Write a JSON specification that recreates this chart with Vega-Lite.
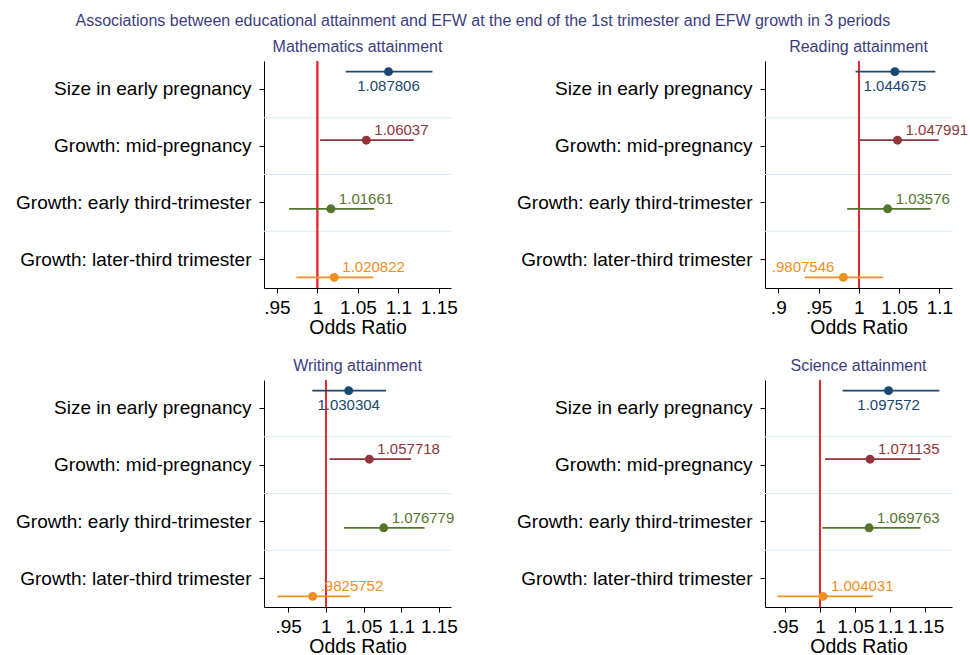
{
  "$schema": "https://vega.github.io/schema/vega-lite/v6.json",
  "padding": {"left": 15, "top": 13, "right": 5, "bottom": 5},
  "title": {"text": "Associations between educational attainment and EFW at the end of the 1st trimester and EFW growth in 3 periods", "fontSize": 16, "fontWeight": "normal", "color": "#3b3e7e", "anchor": "middle", "font": "Liberation Sans", "offset": 10, "dx": -9},
  "data": {"values": [
    {"panel": "Mathematics attainment", "row": "Size in early pregnancy", "or": 1.087806, "lo": 1.035, "hi": 1.142},
    {"panel": "Mathematics attainment", "row": "Growth: mid-pregnancy", "or": 1.06037, "lo": 1.0033, "hi": 1.119},
    {"panel": "Mathematics attainment", "row": "Growth: early third-trimester", "or": 1.01661, "lo": 0.965, "hi": 1.070},
    {"panel": "Mathematics attainment", "row": "Growth: later-third trimester", "or": 1.020822, "lo": 0.974, "hi": 1.069},
    {"panel": "Reading attainment", "row": "Size in early pregnancy", "or": 1.044675, "lo": 0.996, "hi": 1.095},
    {"panel": "Reading attainment", "row": "Growth: mid-pregnancy", "or": 1.047991, "lo": 1.000, "hi": 1.099},
    {"panel": "Reading attainment", "row": "Growth: early third-trimester", "or": 1.03576, "lo": 0.9855, "hi": 1.089},
    {"panel": "Reading attainment", "row": "Growth: later-third trimester", "or": 0.9807546, "lo": 0.933, "hi": 1.030},
    {"panel": "Writing attainment", "row": "Size in early pregnancy", "or": 1.030304, "lo": 0.982, "hi": 1.080},
    {"panel": "Writing attainment", "row": "Growth: mid-pregnancy", "or": 1.057718, "lo": 1.005, "hi": 1.113},
    {"panel": "Writing attainment", "row": "Growth: early third-trimester", "or": 1.076779, "lo": 1.024, "hi": 1.131},
    {"panel": "Writing attainment", "row": "Growth: later-third trimester", "or": 0.9825752, "lo": 0.936, "hi": 1.032},
    {"panel": "Science attainment", "row": "Size in early pregnancy", "or": 1.097572, "lo": 1.032, "hi": 1.170},
    {"panel": "Science attainment", "row": "Growth: mid-pregnancy", "or": 1.071135, "lo": 1.007, "hi": 1.143},
    {"panel": "Science attainment", "row": "Growth: early third-trimester", "or": 1.069763, "lo": 1.003, "hi": 1.143},
    {"panel": "Science attainment", "row": "Growth: later-third trimester", "or": 1.004031, "lo": 0.939, "hi": 1.075}
  ]},
  "columns": 2,
  "bounds": "flush",
  "spacing": {"row": 92, "column": 314},
  "concat": [
    {
      "title": "Mathematics attainment",
      "width": 187, "height": 227,
      "transform": [{"filter": "datum.panel === 'Mathematics attainment'"}, {"calculate": "datum.or < 1 ? substring(format(datum.or, '.7'), 1) : format(datum.or, '.7')", "as": "lab"}],
      "layer": [
        {"transform": [{"filter": "datum.row !== 'Size in early pregnancy'"}],
         "mark": {"type": "rule", "color": "#d8ebf3", "strokeWidth": 1},
         "encoding": {"y": {"field": "row", "type": "nominal", "bandPosition": 0, "scale": {"type": "band", "domain": ["Size in early pregnancy", "Growth: mid-pregnancy", "Growth: early third-trimester", "Growth: later-third trimester"], "padding": 0}, "axis": {"bandPosition": 0.5, "title": null, "labelLimit": 400}}}},
        {"mark": {"type": "rule", "color": "#e4262f", "strokeWidth": 1.5},
         "encoding": {"x": {"datum": 1, "type": "quantitative"}}},
        {"mark": {"type": "rule", "strokeWidth": 1.8},
         "encoding": {
           "x": {"field": "lo", "type": "quantitative", "scale": {"domain": [0.934, 1.165], "nice": false, "zero": false}, "axis": {"values": [0.95, 1, 1.05, 1.1, 1.15], "title": "Odds Ratio"}},
           "x2": {"field": "hi"},
           "y": {"field": "row", "type": "nominal", "scale": {"type": "point", "domain": ["Size in early pregnancy", "Growth: mid-pregnancy", "Growth: early third-trimester", "Growth: later-third trimester"], "padding": 0.155}, "axis": null},
           "color": {"field": "row", "type": "nominal", "scale": {"domain": ["Size in early pregnancy", "Growth: mid-pregnancy", "Growth: early third-trimester", "Growth: later-third trimester"], "range": ["#1a476f", "#90353b", "#55752f", "#f28e1c"]}, "legend": null}}},
        {"mark": {"type": "circle", "size": 80, "opacity": 1},
         "encoding": {
           "x": {"field": "or", "type": "quantitative"},
           "y": {"field": "row", "type": "nominal", "scale": {"type": "point", "domain": ["Size in early pregnancy", "Growth: mid-pregnancy", "Growth: early third-trimester", "Growth: later-third trimester"], "padding": 0.155}, "axis": null},
           "color": {"field": "row", "type": "nominal", "legend": null}}},
        {"transform": [{"filter": "datum.row === 'Size in early pregnancy'"}],
         "mark": {"type": "text", "fontSize": 15, "dy": 14, "align": "center", "baseline": "middle"},
         "encoding": {
           "x": {"field": "or", "type": "quantitative"},
           "y": {"field": "row", "type": "nominal", "scale": {"type": "point", "domain": ["Size in early pregnancy", "Growth: mid-pregnancy", "Growth: early third-trimester", "Growth: later-third trimester"], "padding": 0.155}, "axis": null},
           "text": {"field": "lab"},
           "color": {"field": "row", "type": "nominal", "legend": null}}},
        {"transform": [{"filter": "datum.row !== 'Size in early pregnancy'"}],
         "mark": {"type": "text", "fontSize": 15, "dy": -10, "dx": 8, "align": "left", "baseline": "middle"},
         "encoding": {
           "x": {"field": "or", "type": "quantitative"},
           "y": {"field": "row", "type": "nominal", "scale": {"type": "point", "domain": ["Size in early pregnancy", "Growth: mid-pregnancy", "Growth: early third-trimester", "Growth: later-third trimester"], "padding": 0.155}, "axis": null},
           "text": {"field": "lab"},
           "color": {"field": "row", "type": "nominal", "legend": null}}}
      ],
      "resolve": {"scale": {"y": "independent"}, "axis": {"y": "independent"}}
    },
    {
      "title": "Reading attainment",
      "width": 187, "height": 227,
      "transform": [{"filter": "datum.panel === 'Reading attainment'"}, {"calculate": "datum.or < 1 ? substring(format(datum.or, '.7'), 1) : format(datum.or, '.7')", "as": "lab"}],
      "layer": [
        {"transform": [{"filter": "datum.row !== 'Size in early pregnancy'"}],
         "mark": {"type": "rule", "color": "#d8ebf3", "strokeWidth": 1},
         "encoding": {"y": {"field": "row", "type": "nominal", "bandPosition": 0, "scale": {"type": "band", "domain": ["Size in early pregnancy", "Growth: mid-pregnancy", "Growth: early third-trimester", "Growth: later-third trimester"], "padding": 0}, "axis": {"bandPosition": 0.5, "title": null, "labelLimit": 400}}}},
        {"mark": {"type": "rule", "color": "#e4262f", "strokeWidth": 1.5},
         "encoding": {"x": {"datum": 1, "type": "quantitative"}}},
        {"mark": {"type": "rule", "strokeWidth": 1.8},
         "encoding": {
           "x": {"field": "lo", "type": "quantitative", "scale": {"domain": [0.8835, 1.1156], "nice": false, "zero": false}, "axis": {"values": [0.9, 0.95, 1, 1.05, 1.1], "title": "Odds Ratio"}},
           "x2": {"field": "hi"},
           "y": {"field": "row", "type": "nominal", "scale": {"type": "point", "domain": ["Size in early pregnancy", "Growth: mid-pregnancy", "Growth: early third-trimester", "Growth: later-third trimester"], "padding": 0.155}, "axis": null},
           "color": {"field": "row", "type": "nominal", "scale": {"domain": ["Size in early pregnancy", "Growth: mid-pregnancy", "Growth: early third-trimester", "Growth: later-third trimester"], "range": ["#1a476f", "#90353b", "#55752f", "#f28e1c"]}, "legend": null}}},
        {"mark": {"type": "circle", "size": 80, "opacity": 1},
         "encoding": {
           "x": {"field": "or", "type": "quantitative"},
           "y": {"field": "row", "type": "nominal", "scale": {"type": "point", "domain": ["Size in early pregnancy", "Growth: mid-pregnancy", "Growth: early third-trimester", "Growth: later-third trimester"], "padding": 0.155}, "axis": null},
           "color": {"field": "row", "type": "nominal", "legend": null}}},
        {"transform": [{"filter": "datum.row === 'Size in early pregnancy'"}],
         "mark": {"type": "text", "fontSize": 15, "dy": 14, "align": "center", "baseline": "middle"},
         "encoding": {
           "x": {"field": "or", "type": "quantitative"},
           "y": {"field": "row", "type": "nominal", "scale": {"type": "point", "domain": ["Size in early pregnancy", "Growth: mid-pregnancy", "Growth: early third-trimester", "Growth: later-third trimester"], "padding": 0.155}, "axis": null},
           "text": {"field": "lab"},
           "color": {"field": "row", "type": "nominal", "legend": null}}},
        {"transform": [{"filter": "datum.row === 'Growth: mid-pregnancy' || datum.row === 'Growth: early third-trimester'"}],
         "mark": {"type": "text", "fontSize": 15, "dy": -10, "dx": 8, "align": "left", "baseline": "middle"},
         "encoding": {
           "x": {"field": "or", "type": "quantitative"},
           "y": {"field": "row", "type": "nominal", "scale": {"type": "point", "domain": ["Size in early pregnancy", "Growth: mid-pregnancy", "Growth: early third-trimester", "Growth: later-third trimester"], "padding": 0.155}, "axis": null},
           "text": {"field": "lab"},
           "color": {"field": "row", "type": "nominal", "legend": null}}},
        {"transform": [{"filter": "datum.row === 'Growth: later-third trimester'"}],
         "mark": {"type": "text", "fontSize": 15, "dy": -10, "dx": -9, "align": "right", "baseline": "middle"},
         "encoding": {
           "x": {"field": "or", "type": "quantitative"},
           "y": {"field": "row", "type": "nominal", "scale": {"type": "point", "domain": ["Size in early pregnancy", "Growth: mid-pregnancy", "Growth: early third-trimester", "Growth: later-third trimester"], "padding": 0.155}, "axis": null},
           "text": {"field": "lab"},
           "color": {"field": "row", "type": "nominal", "legend": null}}}
      ],
      "resolve": {"scale": {"y": "independent"}, "axis": {"y": "independent"}}
    },
    {
      "title": "Writing attainment",
      "width": 187, "height": 227,
      "transform": [{"filter": "datum.panel === 'Writing attainment'"}, {"calculate": "datum.or < 1 ? substring(format(datum.or, '.7'), 1) : format(datum.or, '.7')", "as": "lab"}],
      "layer": [
        {"transform": [{"filter": "datum.row !== 'Size in early pregnancy'"}],
         "mark": {"type": "rule", "color": "#d8ebf3", "strokeWidth": 1},
         "encoding": {"y": {"field": "row", "type": "nominal", "bandPosition": 0, "scale": {"type": "band", "domain": ["Size in early pregnancy", "Growth: mid-pregnancy", "Growth: early third-trimester", "Growth: later-third trimester"], "padding": 0}, "axis": {"bandPosition": 0.5, "title": null, "labelLimit": 400}}}},
        {"mark": {"type": "rule", "color": "#e4262f", "strokeWidth": 1.5},
         "encoding": {"x": {"datum": 1, "type": "quantitative"}}},
        {"mark": {"type": "rule", "strokeWidth": 1.8},
         "encoding": {
           "x": {"field": "lo", "type": "quantitative", "scale": {"domain": [0.918, 1.166], "nice": false, "zero": false}, "axis": {"values": [0.95, 1, 1.05, 1.1, 1.15], "title": "Odds Ratio"}},
           "x2": {"field": "hi"},
           "y": {"field": "row", "type": "nominal", "scale": {"type": "point", "domain": ["Size in early pregnancy", "Growth: mid-pregnancy", "Growth: early third-trimester", "Growth: later-third trimester"], "padding": 0.155}, "axis": null},
           "color": {"field": "row", "type": "nominal", "scale": {"domain": ["Size in early pregnancy", "Growth: mid-pregnancy", "Growth: early third-trimester", "Growth: later-third trimester"], "range": ["#1a476f", "#90353b", "#55752f", "#f28e1c"]}, "legend": null}}},
        {"mark": {"type": "circle", "size": 80, "opacity": 1},
         "encoding": {
           "x": {"field": "or", "type": "quantitative"},
           "y": {"field": "row", "type": "nominal", "scale": {"type": "point", "domain": ["Size in early pregnancy", "Growth: mid-pregnancy", "Growth: early third-trimester", "Growth: later-third trimester"], "padding": 0.155}, "axis": null},
           "color": {"field": "row", "type": "nominal", "legend": null}}},
        {"transform": [{"filter": "datum.row === 'Size in early pregnancy'"}],
         "mark": {"type": "text", "fontSize": 15, "dy": 14, "align": "center", "baseline": "middle"},
         "encoding": {
           "x": {"field": "or", "type": "quantitative"},
           "y": {"field": "row", "type": "nominal", "scale": {"type": "point", "domain": ["Size in early pregnancy", "Growth: mid-pregnancy", "Growth: early third-trimester", "Growth: later-third trimester"], "padding": 0.155}, "axis": null},
           "text": {"field": "lab"},
           "color": {"field": "row", "type": "nominal", "legend": null}}},
        {"transform": [{"filter": "datum.row !== 'Size in early pregnancy'"}],
         "mark": {"type": "text", "fontSize": 15, "dy": -10, "dx": 8, "align": "left", "baseline": "middle"},
         "encoding": {
           "x": {"field": "or", "type": "quantitative"},
           "y": {"field": "row", "type": "nominal", "scale": {"type": "point", "domain": ["Size in early pregnancy", "Growth: mid-pregnancy", "Growth: early third-trimester", "Growth: later-third trimester"], "padding": 0.155}, "axis": null},
           "text": {"field": "lab"},
           "color": {"field": "row", "type": "nominal", "legend": null}}}
      ],
      "resolve": {"scale": {"y": "independent"}, "axis": {"y": "independent"}}
    },
    {
      "title": "Science attainment",
      "width": 187, "height": 227,
      "transform": [{"filter": "datum.panel === 'Science attainment'"}, {"calculate": "datum.or < 1 ? substring(format(datum.or, '.7'), 1) : format(datum.or, '.7')", "as": "lab"}],
      "layer": [
        {"transform": [{"filter": "datum.row !== 'Size in early pregnancy'"}],
         "mark": {"type": "rule", "color": "#d8ebf3", "strokeWidth": 1},
         "encoding": {"y": {"field": "row", "type": "nominal", "bandPosition": 0, "scale": {"type": "band", "domain": ["Size in early pregnancy", "Growth: mid-pregnancy", "Growth: early third-trimester", "Growth: later-third trimester"], "padding": 0}, "axis": {"bandPosition": 0.5, "title": null, "labelLimit": 400}}}},
        {"mark": {"type": "rule", "color": "#e4262f", "strokeWidth": 1.5},
         "encoding": {"x": {"datum": 1, "type": "quantitative"}}},
        {"mark": {"type": "rule", "strokeWidth": 1.8},
         "encoding": {
           "x": {"field": "lo", "type": "quantitative", "scale": {"domain": [0.9214, 1.188], "nice": false, "zero": false}, "axis": {"values": [0.95, 1, 1.05, 1.1, 1.15], "title": "Odds Ratio"}},
           "x2": {"field": "hi"},
           "y": {"field": "row", "type": "nominal", "scale": {"type": "point", "domain": ["Size in early pregnancy", "Growth: mid-pregnancy", "Growth: early third-trimester", "Growth: later-third trimester"], "padding": 0.155}, "axis": null},
           "color": {"field": "row", "type": "nominal", "scale": {"domain": ["Size in early pregnancy", "Growth: mid-pregnancy", "Growth: early third-trimester", "Growth: later-third trimester"], "range": ["#1a476f", "#90353b", "#55752f", "#f28e1c"]}, "legend": null}}},
        {"mark": {"type": "circle", "size": 80, "opacity": 1},
         "encoding": {
           "x": {"field": "or", "type": "quantitative"},
           "y": {"field": "row", "type": "nominal", "scale": {"type": "point", "domain": ["Size in early pregnancy", "Growth: mid-pregnancy", "Growth: early third-trimester", "Growth: later-third trimester"], "padding": 0.155}, "axis": null},
           "color": {"field": "row", "type": "nominal", "legend": null}}},
        {"transform": [{"filter": "datum.row === 'Size in early pregnancy'"}],
         "mark": {"type": "text", "fontSize": 15, "dy": 14, "align": "center", "baseline": "middle"},
         "encoding": {
           "x": {"field": "or", "type": "quantitative"},
           "y": {"field": "row", "type": "nominal", "scale": {"type": "point", "domain": ["Size in early pregnancy", "Growth: mid-pregnancy", "Growth: early third-trimester", "Growth: later-third trimester"], "padding": 0.155}, "axis": null},
           "text": {"field": "lab"},
           "color": {"field": "row", "type": "nominal", "legend": null}}},
        {"transform": [{"filter": "datum.row !== 'Size in early pregnancy'"}],
         "mark": {"type": "text", "fontSize": 15, "dy": -10, "dx": 8, "align": "left", "baseline": "middle"},
         "encoding": {
           "x": {"field": "or", "type": "quantitative"},
           "y": {"field": "row", "type": "nominal", "scale": {"type": "point", "domain": ["Size in early pregnancy", "Growth: mid-pregnancy", "Growth: early third-trimester", "Growth: later-third trimester"], "padding": 0.155}, "axis": null},
           "text": {"field": "lab"},
           "color": {"field": "row", "type": "nominal", "legend": null}}}
      ],
      "resolve": {"scale": {"y": "independent"}, "axis": {"y": "independent"}}
    }
  ],
  "config": {
    "font": "Liberation Sans",
    "view": {"stroke": null},
    "axis": {"grid": false, "domainColor": "#000000", "tickColor": "#000000", "labelColor": "#000000", "titleColor": "#000000", "labelFontSize": 19, "labelFont": "Liberation Sans", "tickSize": 5, "domainWidth": 1, "tickWidth": 1},
    "axisX": {"labelExpr": "datum.value < 1 ? substring(toString(datum.value), 1) : toString(datum.value)", "labelPadding": 5, "titleFontSize": 19.5, "titleFontWeight": "normal", "titleFont": "Liberation Sans", "titlePadding": 1, "labelFlush": false, "labelOverlap": false},
    "axisY": {"labelPadding": 8},
    "title": {"fontSize": 16, "fontWeight": "normal", "color": "#3b3e7e", "font": "Liberation Sans", "offset": 5}
  }
}
